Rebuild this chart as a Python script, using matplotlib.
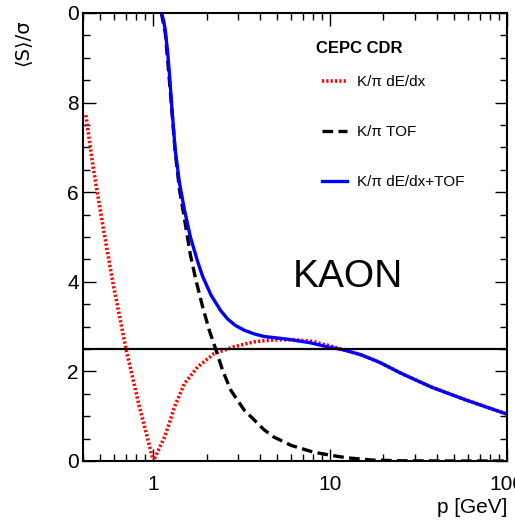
import matplotlib
matplotlib.use('Agg')
import matplotlib.pyplot as plt
from matplotlib.ticker import FixedLocator, NullFormatter
import numpy as np

# K/pi dE/dx separation
p_dedx = [0.415, 0.456, 0.519, 0.591, 0.702, 0.834, 1.0, 1.158, 1.23, 1.317, 1.50,
          1.78, 2.21, 2.86, 3.71, 4.6, 6.2, 8.0, 8.8, 10.0, 11.9, 14.7, 16.8,
          19.1, 24.8, 30.8, 37.9, 58.8, 96.0, 100.0]
s_dedx = [7.72, 6.57, 5.23, 3.97, 2.48, 1.21, 0.0, 0.54, 0.84, 1.21, 1.73,
          2.10, 2.40, 2.55, 2.66, 2.70, 2.71, 2.67, 2.62, 2.57, 2.48, 2.38, 2.29,
          2.20, 1.97, 1.80, 1.64, 1.36, 1.07, 1.05]

# K/pi TOF separation
p_tof = [1.11, 1.168, 1.235, 1.329, 1.406, 1.50, 1.62, 1.74, 1.90, 2.07, 2.26,
         2.46, 2.74, 3.26, 4.22, 4.78, 6.0, 8.0, 10.0, 12.5, 17.5, 25.0, 50.0, 100.0]
s_tof = [10.0, 9.55, 8.45, 6.9, 6.05, 5.4, 4.6, 4.04, 3.44, 2.92, 2.48,
         2.03, 1.58, 1.14, 0.70, 0.54, 0.35, 0.20, 0.13, 0.07, 0.02, 0.005, 0.0, 0.0]

# combined dE/dx+TOF
p_comb = [1.109, 1.14, 1.168, 1.209, 1.235, 1.273, 1.329, 1.406, 1.50, 1.62, 1.78,
          1.90, 2.12, 2.4, 2.63, 2.9, 3.26, 3.7, 4.22, 5.7, 7.7, 9.6, 11.9, 14.7, 16.8,
          19.1, 24.8, 30.8, 37.9, 58.8, 96.0, 100.0]
s_comb = [10.0, 9.85, 9.62, 9.05, 8.6, 7.88, 6.94, 6.2, 5.6, 5.0, 4.45,
          4.12, 3.70, 3.36, 3.17, 3.03, 2.92, 2.84, 2.78, 2.72, 2.64, 2.55, 2.48, 2.38, 2.29,
          2.20, 1.97, 1.80, 1.64, 1.36, 1.07, 1.05]

y_ticks = [0, 2, 4, 6, 8, 10]
y_ticklabels = ['0', '2', '4', '6', '8', '0']
x_ticks = [1, 10, 100]
x_ticklabels = ['1', '10', '100']

plt.rcParams['font.family'] = ['Liberation Sans', 'DejaVu Sans']

W, H = 515, 520
fig = plt.figure(figsize=(W / 100, H / 100), dpi=100)
ax = fig.add_axes([83 / W, 1 - 461 / H, (507 - 83) / W, (461 - 13) / H])

ax.plot(p_dedx, s_dedx, color='red', ls=(0, (0.6, 0.6)), lw=2.6, label='K/π dE/dx')
ax.plot(p_tof, s_tof, color='black', ls=(0, (3.2, 1.6)), lw=2.4, label='K/π TOF')
ax.plot(p_comb, s_comb, color='blue', lw=2.4, label='K/π dE/dx+TOF')
ax.axhline(2.5, color='black', lw=1.6)

ax.set_xscale('log')
ax.set_xlim(0.4, 100)
ax.set_ylim(0, 10)

ax.xaxis.set_major_locator(FixedLocator(x_ticks))
ax.set_xticklabels(x_ticklabels)
minor_x = [m * d for d in (0.1, 1, 10) for m in range(2, 10) if 0.4 <= m * d <= 100]
ax.xaxis.set_minor_locator(FixedLocator(minor_x))
ax.xaxis.set_minor_formatter(NullFormatter())
ax.set_yticks(y_ticks)
ax.set_yticklabels(y_ticklabels)
ax.set_yticks(np.arange(0, 10.01, 0.5), minor=True)

ax.tick_params(which='both', direction='in', top=True, right=True, labelsize=15, width=1)
ax.tick_params(which='major', length=9)
ax.tick_params(which='minor', length=5)
ax.tick_params(axis='y', pad=3)
ax.tick_params(axis='x', pad=10)
for s in ax.spines.values():
    s.set_linewidth(1.5)

fig.text(507 / W, 1 - 517 / H, 'p [GeV]', ha='right', va='bottom', fontsize=15)
fig.text(22 / W, 1 - 66 / H, '⟨S⟩/σ', rotation=90, ha='center', va='bottom', fontsize=14,
         family=['DejaVu Sans'])

ax.text((316 - 83) / 424, (461 - 49) / 448, 'CEPC CDR', transform=ax.transAxes,
        fontsize=12, fontweight='bold', ha='left', va='center')
ax.legend(loc='center left', bbox_to_anchor=((322 - 83) / 424, (461 - 132) / 448),
          frameon=False, fontsize=11, handlelength=1.65, labelspacing=2.35,
          handletextpad=0.65, borderpad=0, borderaxespad=0)

ax.text(0.495, 0.388, 'KAON', transform=ax.transAxes, fontsize=28, ha='left', va='baseline')

fig.savefig('out.png', dpi=100)
